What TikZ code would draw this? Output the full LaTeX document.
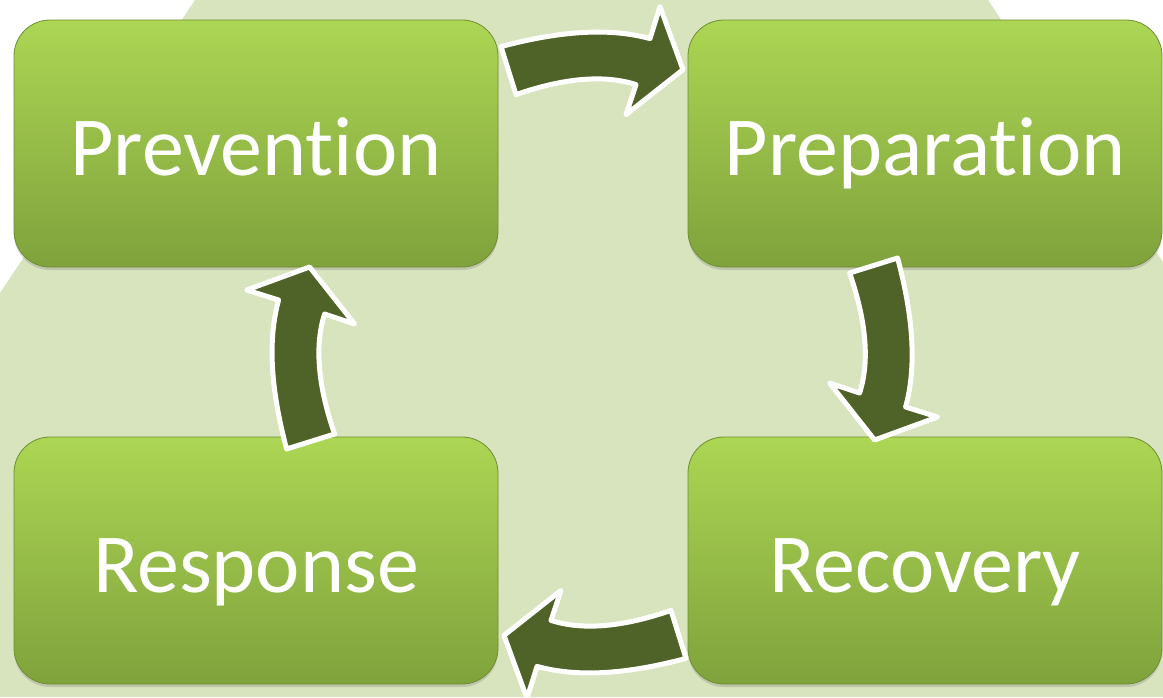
\documentclass[tikz,border=0pt]{standalone}
\usepackage{fontspec}
\newfontfamily\phasefont[Ligatures=NoCommon]{Carlito}
\usetikzlibrary{calc}
\usetikzlibrary{shadows}
\definecolor{custom-pale}{RGB}{216,228,189}
\definecolor{custom-top}{RGB}{172,214,84}
\definecolor{custom-bottom}{RGB}{128,162,60}
\definecolor{custom-edge}{RGB}{112,142,50}
\definecolor{custom-dark}{RGB}{79,98,40}
\tikzset{
  phase/.style={rounded corners=36pt, top color=custom-top, bottom color=custom-bottom,
    draw=custom-edge, line width=0.8pt, text=white,
    font=\phasefont\fontsize{84}{100}\selectfont, text height=70pt, text depth=7pt,
    minimum height=247pt,
    drop shadow={shadow xshift=0pt, shadow yshift=-3pt, opacity=0.3}},
  turn/.pic={
    \filldraw[fill=custom-dark, draw=white, line width=5pt, line join=round]
      (-92,-15) .. controls (-32,-31) and (17,-34) .. (57,-23) -- (67,-55) -- (90,8)
      -- (33,53) -- (43,23) .. controls (12,13) and (-28,16) .. (-77,33) -- cycle;
  }
}

\begin{document}
\begin{tikzpicture}[x=1pt, y=-1pt]
\useasboundingbox (0,0) rectangle (1163,697);
\fill[custom-pale] (195,0) -- (988,0) -- (1163,262) -- (1163,697) -- (0,697) -- (0,293) -- cycle;

\node[phase, minimum width=484pt] (prev) at (256,143.5) {Prevention};
\node[phase, minimum width=474pt] (prep) at (925,143.5) {Preparation};
\node[phase, minimum width=484pt] (resp) at (256,560.5) {Response};
\node[phase, minimum width=474pt] (reco) at (925,560.5) {Recovery};

\pic at ($(prev.north east)!0.5!(prep.north west) + (0,42)$) {turn};
\pic[rotate=-90] at ($(prep.south west)!0.5!(reco.north west) + (195,-2)$) {turn};
\pic[rotate=180] at ($(resp.south east)!0.5!(reco.south west) + (1,-41)$) {turn};
\pic[rotate=90] at ($(prev.south west)!0.5!(resp.north west) + (288,5)$) {turn};
\end{tikzpicture}
\end{document}
